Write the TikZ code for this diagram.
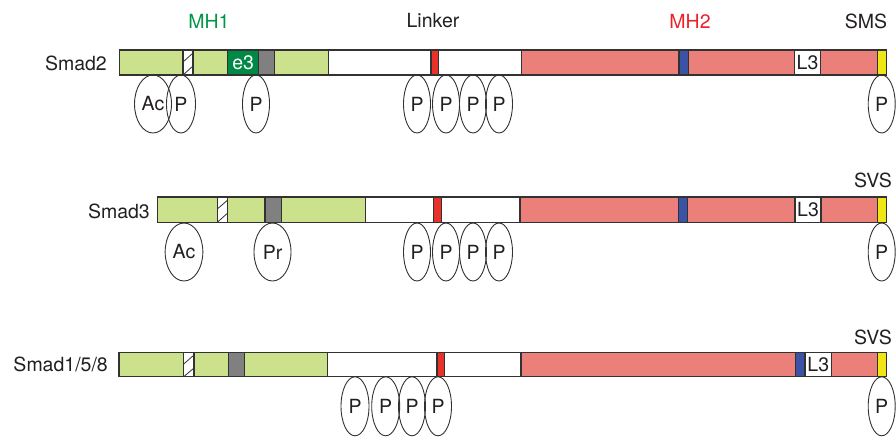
\documentclass[tikz,border=0pt]{standalone}
\usepackage{fontspec}
\setmainfont{TeX Gyre Heros}
\usepackage{tikz}
\usetikzlibrary{shapes.geometric}

\definecolor{mhgreen}{RGB}{204,225,140}
\definecolor{mhsalmon}{RGB}{235,128,122}
\definecolor{esgreen}{RGB}{0,137,68}
\definecolor{boxgray}{RGB}{128,128,128}
\definecolor{motred}{RGB}{232,49,40}
\definecolor{motblue}{RGB}{58,83,164}
\definecolor{motyellow}{RGB}{240,230,20}
\definecolor{edgegray}{RGB}{50,50,50}
\definecolor{textgray}{RGB}{35,31,32}
\definecolor{labgreen}{RGB}{0,150,70}
\definecolor{labred}{RGB}{236,32,40}

\tikzset{
  seg/.style={draw=edgegray,line width=1.1pt},
  site/.style={ellipse,draw=edgegray,line width=0.9pt,inner sep=0pt,
    minimum width=27pt,minimum height=58pt,text=textgray,
    font=\fontsize{19.5}{22}\selectfont},
  bigsite/.style={site,minimum width=37pt},
  title/.style={inner sep=0pt,text=textgray,font=\fontsize{19.5}{22}\selectfont},
}

\begin{document}
\begin{tikzpicture}[x=1pt,y=-1pt]
  \useasboundingbox (0,0) rectangle (896,437);

  % domain labels
  \node[title,text=labgreen] (mhone) at (209,21) {MH1};
  \node[title] (linker) at (433,21) {Linker};
  \node[title,text=labred] (mhtwo) at (690,21) {MH2};
  \node[title] (sms) at (866,21) {SMS};
  \node[title] (svsa) at (873,180) {SVS};
  \node[title] (svsb) at (873,337) {SVS};

  % Smad2
  \node[title,anchor=east] (smadtwo) at (107,63) {Smad2};
  \draw[seg,fill=mhgreen] (119.5,50) rectangle (183,75);
  \draw[seg,fill=white] (183,50) rectangle (193,75);
  \draw[edgegray,line width=0.8pt] (183,62) -- (193,53) (183,75) -- (193,66);
  \draw[seg,fill=mhgreen] (193,50) rectangle (227.7,75);
  \draw[seg,fill=esgreen] (227.7,50) rectangle (258.7,75);
  \node[inner sep=0pt,text=white,font=\fontsize{19.5}{22}\selectfont] (ethree) at (243.2,62.5) {e3};
  \draw[seg,fill=boxgray] (258.7,50) rectangle (274.3,75);
  \draw[seg,fill=mhgreen] (274.3,50) rectangle (328.3,75);
  \draw[seg,fill=white] (328.3,50) rectangle (431,75);
  \draw[seg,fill=motred] (431,50) rectangle (438.7,75);
  \draw[seg,fill=white] (438.7,50) rectangle (521.7,75);
  \draw[seg,fill=mhsalmon] (521.7,50) rectangle (679,75);
  \draw[seg,fill=motblue] (679,50) rectangle (688.3,75);
  \draw[seg,fill=mhsalmon] (688.3,50) rectangle (794.3,75);
  \draw[seg,fill=white] (794.3,50) rectangle (820.7,75);
  \node[title] (lthreea) at (807.5,62.5) {L3};
  \draw[seg,fill=mhsalmon] (820.7,50) rectangle (877.7,75);
  \draw[seg,fill=motyellow] (877.7,50) rectangle (886.7,75);

  \node[bigsite] (twoac) at (153,104) {Ac};
  \node[site,minimum width=29pt] (twopa) at (181,104) {P};
  \node[site] (twopb) at (256,104) {P};
  \node[site] (twopc) at (417,104) {P};
  \node[site] (twopd) at (446,104) {P};
  \node[site] (twope) at (473,104) {P};
  \node[site] (twopf) at (499,104) {P};
  \node[site] (twopg) at (881.7,104) {P};

  % Smad3
  \node[title,anchor=east] (smadthree) at (150,211) {Smad3};
  \draw[seg,fill=mhgreen] (157.3,197) rectangle (217.3,222.3);
  \draw[seg,fill=white] (217.3,197) rectangle (227.7,222.3);
  \draw[edgegray,line width=0.8pt] (217.3,209) -- (227.7,200) (217.3,222.3) -- (227.7,213);
  \draw[seg,fill=mhgreen] (227.7,197) rectangle (265,222.3);
  \draw[seg,fill=boxgray] (265,197) rectangle (281.7,222.3);
  \draw[seg,fill=mhgreen] (281.7,197) rectangle (365.7,222.3);
  \draw[seg,fill=white] (365.7,197) rectangle (433.3,222.3);
  \draw[seg,fill=motred] (433.3,197) rectangle (441.7,222.3);
  \draw[seg,fill=white] (441.7,197) rectangle (520,222.3);
  \draw[seg,fill=mhsalmon] (520,197) rectangle (678.3,222.3);
  \draw[seg,fill=motblue] (678.3,197) rectangle (687.7,222.3);
  \draw[seg,fill=mhsalmon] (687.7,197) rectangle (795,222.3);
  \draw[seg,fill=white] (795,197) rectangle (821,222.3);
  \node[title] (lthreeb) at (808,209.7) {L3};
  \draw[seg,fill=mhsalmon] (821,197) rectangle (877.7,222.3);
  \draw[seg,fill=motyellow] (877.7,197) rectangle (886.7,222.3);

  \node[bigsite,minimum width=37.7pt] (threeac) at (184,252) {Ac};
  \node[bigsite] (threepr) at (272.5,252) {Pr};
  \node[site] (threepa) at (417,252) {P};
  \node[site] (threepb) at (446,252) {P};
  \node[site] (threepc) at (473,252) {P};
  \node[site] (threepd) at (499,252) {P};
  \node[site] (threepe) at (881.7,252) {P};

  % Smad1/5/8
  \node[title,anchor=east] (smadone) at (108,364) {Smad1/5/8};
  \draw[seg,fill=mhgreen] (119,352.3) rectangle (183.7,376.7);
  \draw[seg,fill=white] (183.7,352.3) rectangle (194,376.7);
  \draw[edgegray,line width=0.8pt] (183.7,364) -- (194,355) (183.7,376.7) -- (194,368);
  \draw[seg,fill=mhgreen] (194,352.3) rectangle (228.3,376.7);
  \draw[seg,fill=boxgray] (228.3,352.3) rectangle (244.3,376.7);
  \draw[seg,fill=mhgreen] (244.3,352.3) rectangle (327.3,376.7);
  \draw[seg,fill=white] (327.3,352.3) rectangle (437,376.7);
  \draw[seg,fill=motred] (437,352.3) rectangle (444.3,376.7);
  \draw[seg,fill=white] (444.3,352.3) rectangle (521,376.7);
  \draw[seg,fill=mhsalmon] (521,352.3) rectangle (795.7,376.7);
  \draw[seg,fill=motblue] (795.7,352.3) rectangle (805,376.7);
  \draw[seg,fill=white] (805,352.3) rectangle (831.7,376.7);
  \node[title] (lthreec) at (818.3,364.5) {L3};
  \draw[seg,fill=mhsalmon] (831.7,352.3) rectangle (877.7,376.7);
  \draw[seg,fill=motyellow] (877.7,352.3) rectangle (886.7,376.7);

  \node[site,minimum width=28pt,minimum height=59pt] (onepa) at (355,406.3) {P};
  \node[site,minimum width=28pt,minimum height=59pt] (onepb) at (385.7,406.3) {P};
  \node[site,minimum width=27pt,minimum height=59pt] (onepc) at (412,406.3) {P};
  \node[site,minimum width=27pt,minimum height=59pt] (onepd) at (438,406.3) {P};
  \node[site,minimum width=27pt,minimum height=59pt] (onepe) at (881.7,406.3) {P};
\end{tikzpicture}
\end{document}
